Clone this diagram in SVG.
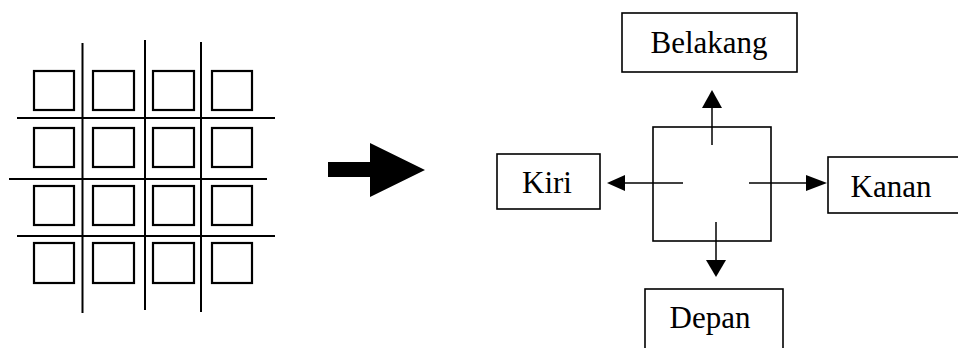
<svg xmlns="http://www.w3.org/2000/svg" width="958" height="348" viewBox="0 0 958 348">
<style>
.cell{fill:none;stroke:#000;stroke-width:2.2}
.grid{stroke:#000;stroke-width:2}
.box{fill:#fff;stroke:#000;stroke-width:1.6}
.lbl{font-family:"Liberation Serif","Times New Roman",serif;font-size:31px;fill:#000;text-anchor:middle}
.conn{stroke:#000;stroke-width:1.5;fill:none}
.head{fill:#000}
</style>
<rect width="958" height="348" fill="#fff"/>
<g id="grid">
  <line class="grid" x1="82.5" y1="43" x2="82.5" y2="313"/>
  <line class="grid" x1="145" y1="40" x2="145" y2="310"/>
  <line class="grid" x1="201" y1="42" x2="201" y2="312"/>
  <line class="grid" x1="17" y1="118" x2="275" y2="118"/>
  <line class="grid" x1="9" y1="179" x2="267" y2="179"/>
  <line class="grid" x1="17" y1="236" x2="275" y2="236"/>
  <rect class="cell" x="34" y="71" width="40" height="39"/>
  <rect class="cell" x="93" y="71" width="41" height="39"/>
  <rect class="cell" x="153" y="71" width="41" height="39"/>
  <rect class="cell" x="212" y="71" width="40" height="39"/>
  <rect class="cell" x="34" y="128" width="40" height="39"/>
  <rect class="cell" x="93" y="128" width="41" height="39"/>
  <rect class="cell" x="153" y="128" width="41" height="39"/>
  <rect class="cell" x="212" y="128" width="40" height="39"/>
  <rect class="cell" x="34" y="186" width="40" height="39"/>
  <rect class="cell" x="93" y="186" width="41" height="39"/>
  <rect class="cell" x="153" y="186" width="41" height="39"/>
  <rect class="cell" x="212" y="186" width="40" height="39"/>
  <rect class="cell" x="34" y="243" width="40" height="40"/>
  <rect class="cell" x="93" y="243" width="41" height="40"/>
  <rect class="cell" x="153" y="243" width="41" height="40"/>
  <rect class="cell" x="212" y="243" width="40" height="40"/>
</g>
<g id="bigArrow">
  <polygon fill="#000" points="328,162 370,162 370,143 425,170 370,197 370,177 328,177"/>
</g>
<g id="center">
  <rect class="box" x="653" y="127" width="118" height="114"/>
</g>
<g id="belakang">
  <rect class="box" x="622" y="13" width="175" height="59"/>
  <text class="lbl" x="709" y="53">Belakang</text>
</g>
<g id="kiri">
  <rect class="box" x="497" y="154" width="103" height="55"/>
  <text class="lbl" x="547" y="193">Kiri</text>
</g>
<g id="kanan">
  <rect class="box" x="828" y="157" width="135" height="56"/>
  <text class="lbl" x="891" y="197">Kanan</text>
</g>
<g id="depan">
  <rect class="box" x="645" y="289" width="138" height="65"/>
  <text class="lbl" x="710" y="328">Depan</text>
</g>
<g id="connectors">
  <line class="conn" x1="712" y1="145" x2="712" y2="106"/>
  <polygon class="head" points="712,90 702,108 722,108"/>
  <line class="conn" x1="683" y1="183" x2="623" y2="183"/>
  <polygon class="head" points="607,183 625,175 625,191"/>
  <line class="conn" x1="749" y1="183" x2="808" y2="183"/>
  <polygon class="head" points="827,183 806,175 806,191"/>
  <line class="conn" x1="716" y1="222" x2="716" y2="262"/>
  <polygon class="head" points="716,277 706,260 726,260"/>
</g>
</svg>
